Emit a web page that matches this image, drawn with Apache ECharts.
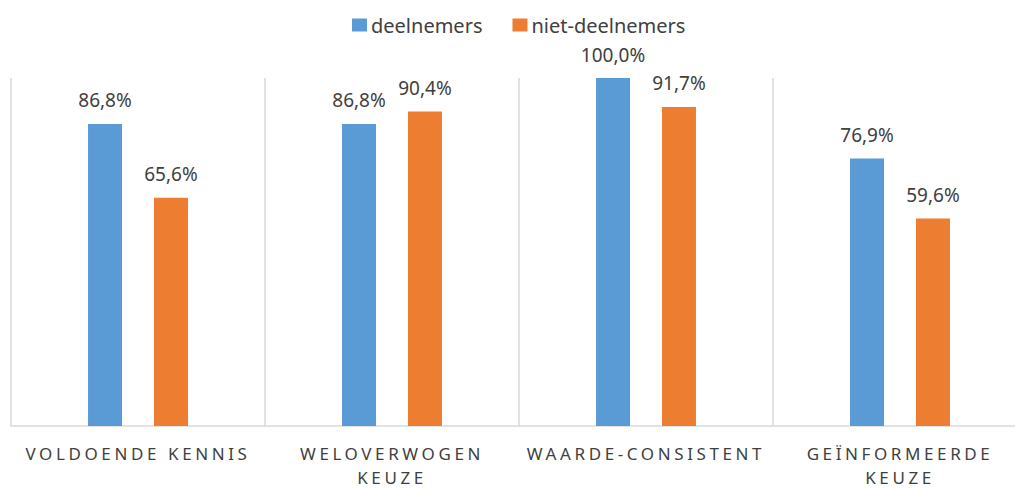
<!DOCTYPE html>
<html>
<head>
<meta charset="utf-8">
<script src="https://cdn.jsdelivr.net/npm/echarts@6/dist/echarts.min.js"></script>
<style>
  html, body { margin: 0; padding: 0; background: #fff; }
  #chart { width: 1015px; height: 489px; }
  /* spaced capitals on the category labels */
  #chart svg text[fill="#3f3f40"] { letter-spacing: 3.6px; }
</style>
</head>
<body>
<div id="chart"></div>
<script>
// categories and values
var categories = ["VOLDOENDE KENNIS", "WELOVERWOGEN KEUZE", "WAARDE-CONSISTENT", "GEÏNFORMEERDE KEUZE"];
var seriesNames = ["deelnemers", "niet-deelnemers"];
var deelnemers = [86.8, 86.8, 100.0, 76.9];
var nietDeelnemers = [65.6, 90.4, 91.7, 59.6];

var myChart = echarts.init(document.getElementById("chart"), null, { renderer: "svg" });

function pct(p) {
  return p.value.toFixed(1).replace(".", ",") + "%";
}

var labelStyle = {
  show: true,
  position: "top",
  distance: 14,
  color: "#404040",
  fontSize: 19,
  fontFamily: "Noto Sans",
  formatter: pct
};

myChart.setOption({
  animation: false,
  legend: {
    data: seriesNames,
    left: 352,
    top: 15,
    padding: 0,
    itemWidth: 15,
    itemHeight: 13,
    itemGap: 30,
    icon: "rect",
    textStyle: {
      color: "#404040",
      fontSize: 20,
      fontFamily: "Noto Sans",
      lineHeight: 20,
      padding: [0, 0, 0, -1]
    }
  },
  grid: {
    left: 11,
    top: 78,
    width: 1016,
    height: 348,
    outerBoundsMode: "none",
    containLabel: false
  },
  xAxis: {
    type: "category",
    data: categories,
    axisLine: { lineStyle: { color: "#d9d9d9", width: 1.5 } },
    axisTick: { show: false },
    splitLine: { show: true, interval: 0, lineStyle: { color: "#d9d9d9", width: 1.5 } },
    axisLabel: {
      interval: 0,
      margin: 15,
      color: "#3f3f40",
      fontSize: 17,
      lineHeight: 24,
      fontFamily: "Noto Sans",
      formatter: function (v) {
        // long names go on two lines
        if (v.length > 17) {
          var i = v.lastIndexOf(" ");
          return v.slice(0, i) + "\n" + v.slice(i + 1);
        }
        return v;
      }
    }
  },
  yAxis: {
    type: "value",
    min: 0,
    max: 100,
    show: false,
    splitLine: { show: false }
  },
  series: [
    {
      name: seriesNames[0],
      type: "bar",
      data: deelnemers,
      barWidth: 34,
      barGap: "94%",
      itemStyle: { color: "#5b9bd5" },
      label: labelStyle
    },
    {
      name: seriesNames[1],
      type: "bar",
      data: nietDeelnemers,
      barWidth: 34,
      itemStyle: { color: "#ed7d31" },
      label: labelStyle
    }
  ]
});
</script>
</body>
</html>
